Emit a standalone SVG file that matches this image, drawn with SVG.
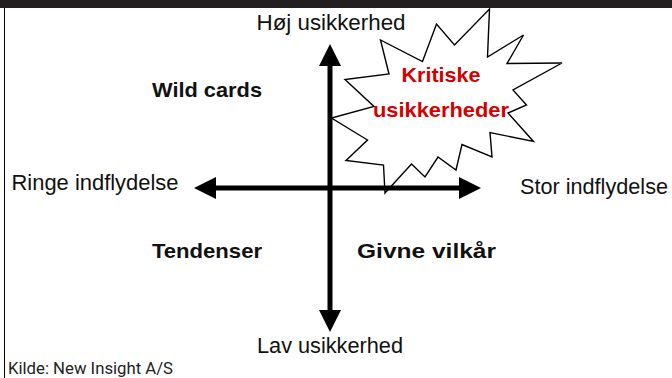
<svg xmlns="http://www.w3.org/2000/svg" width="672" height="378" viewBox="0 0 672 378">
<style>
.lbl{font-family:"Liberation Sans",Arial,sans-serif;font-size:21.5px;fill:#111;}
.q{font-family:"Liberation Sans",Arial,sans-serif;font-size:20.5px;font-weight:bold;fill:#111;}
.red{font-family:"Liberation Sans",Arial,sans-serif;font-size:20.5px;font-weight:bold;fill:#d40000;}
.src{font-family:Roboto,"Liberation Sans",sans-serif;font-size:16px;fill:#222;}
.axis{stroke:#000;stroke-width:5;fill:none;}
</style>
<defs>
<marker id="ah" viewBox="0 0 22 22" refX="2" refY="11" markerWidth="22" markerHeight="22" markerUnits="userSpaceOnUse" orient="auto">
<path d="M0,0 L22,11 L0,22 Z" fill="#000"/>
</marker>
</defs>
<rect x="0" y="0" width="672" height="8" fill="#231f20"/>
<line x1="4.5" y1="8" x2="4.5" y2="378" stroke="#000" stroke-width="1"/>
<g id="starburst">
<polygon points="489.5,9 487.5,57 523.5,35 507,63.5 562,63 513,90 526.5,105 508,113 533.5,141.5 490,132.5 492,157 462,144.5 456,170 438,157 425,177 411.5,164 385,193 383.5,165 346,160.5 367.5,140 331.5,118 374,106.5 345,79.5 389,74 380.5,40 422.5,61.5 436.5,24 454.5,45" fill="#fff" stroke="#000" stroke-width="1.4" stroke-linejoin="miter"/>
<text class="red" x="441" y="82" text-anchor="middle" textLength="79" lengthAdjust="spacingAndGlyphs">Kritiske</text>
<text class="red" x="441" y="117" text-anchor="middle" textLength="136" lengthAdjust="spacingAndGlyphs">usikkerheder</text>
</g>
<g id="connectors">
<line class="axis" x1="330" y1="188" x2="330" y2="64" marker-end="url(#ah)"/>
<line class="axis" x1="330" y1="188" x2="330" y2="312" marker-end="url(#ah)"/>
<line class="axis" x1="330" y1="188" x2="214" y2="188" marker-end="url(#ah)"/>
<line class="axis" x1="330" y1="188" x2="461" y2="188" marker-end="url(#ah)"/>
</g>
<g id="top-label"><text class="lbl" x="331" y="30" text-anchor="middle" textLength="149" lengthAdjust="spacingAndGlyphs">Høj usikkerhed</text></g>
<g id="bottom-label"><text class="lbl" x="330" y="353" text-anchor="middle" textLength="146" lengthAdjust="spacingAndGlyphs">Lav usikkerhed</text></g>
<g id="left-label"><text class="lbl" x="11.5" y="190" textLength="167" lengthAdjust="spacingAndGlyphs">Ringe indflydelse</text></g>
<g id="right-label"><text class="lbl" x="520" y="193.5" textLength="148" lengthAdjust="spacingAndGlyphs">Stor indflydelse</text></g>
<g id="wild-cards"><text class="q" x="152" y="97" textLength="110" lengthAdjust="spacingAndGlyphs">Wild cards</text></g>
<g id="tendenser"><text class="q" x="152" y="258" textLength="110" lengthAdjust="spacingAndGlyphs">Tendenser</text></g>
<g id="givne-vilkaar"><text class="q" x="357" y="258" textLength="139" lengthAdjust="spacingAndGlyphs">Givne vilkår</text></g>
<text class="src" x="8" y="374" textLength="165" lengthAdjust="spacingAndGlyphs">Kilde: New Insight A/S</text>
</svg>
